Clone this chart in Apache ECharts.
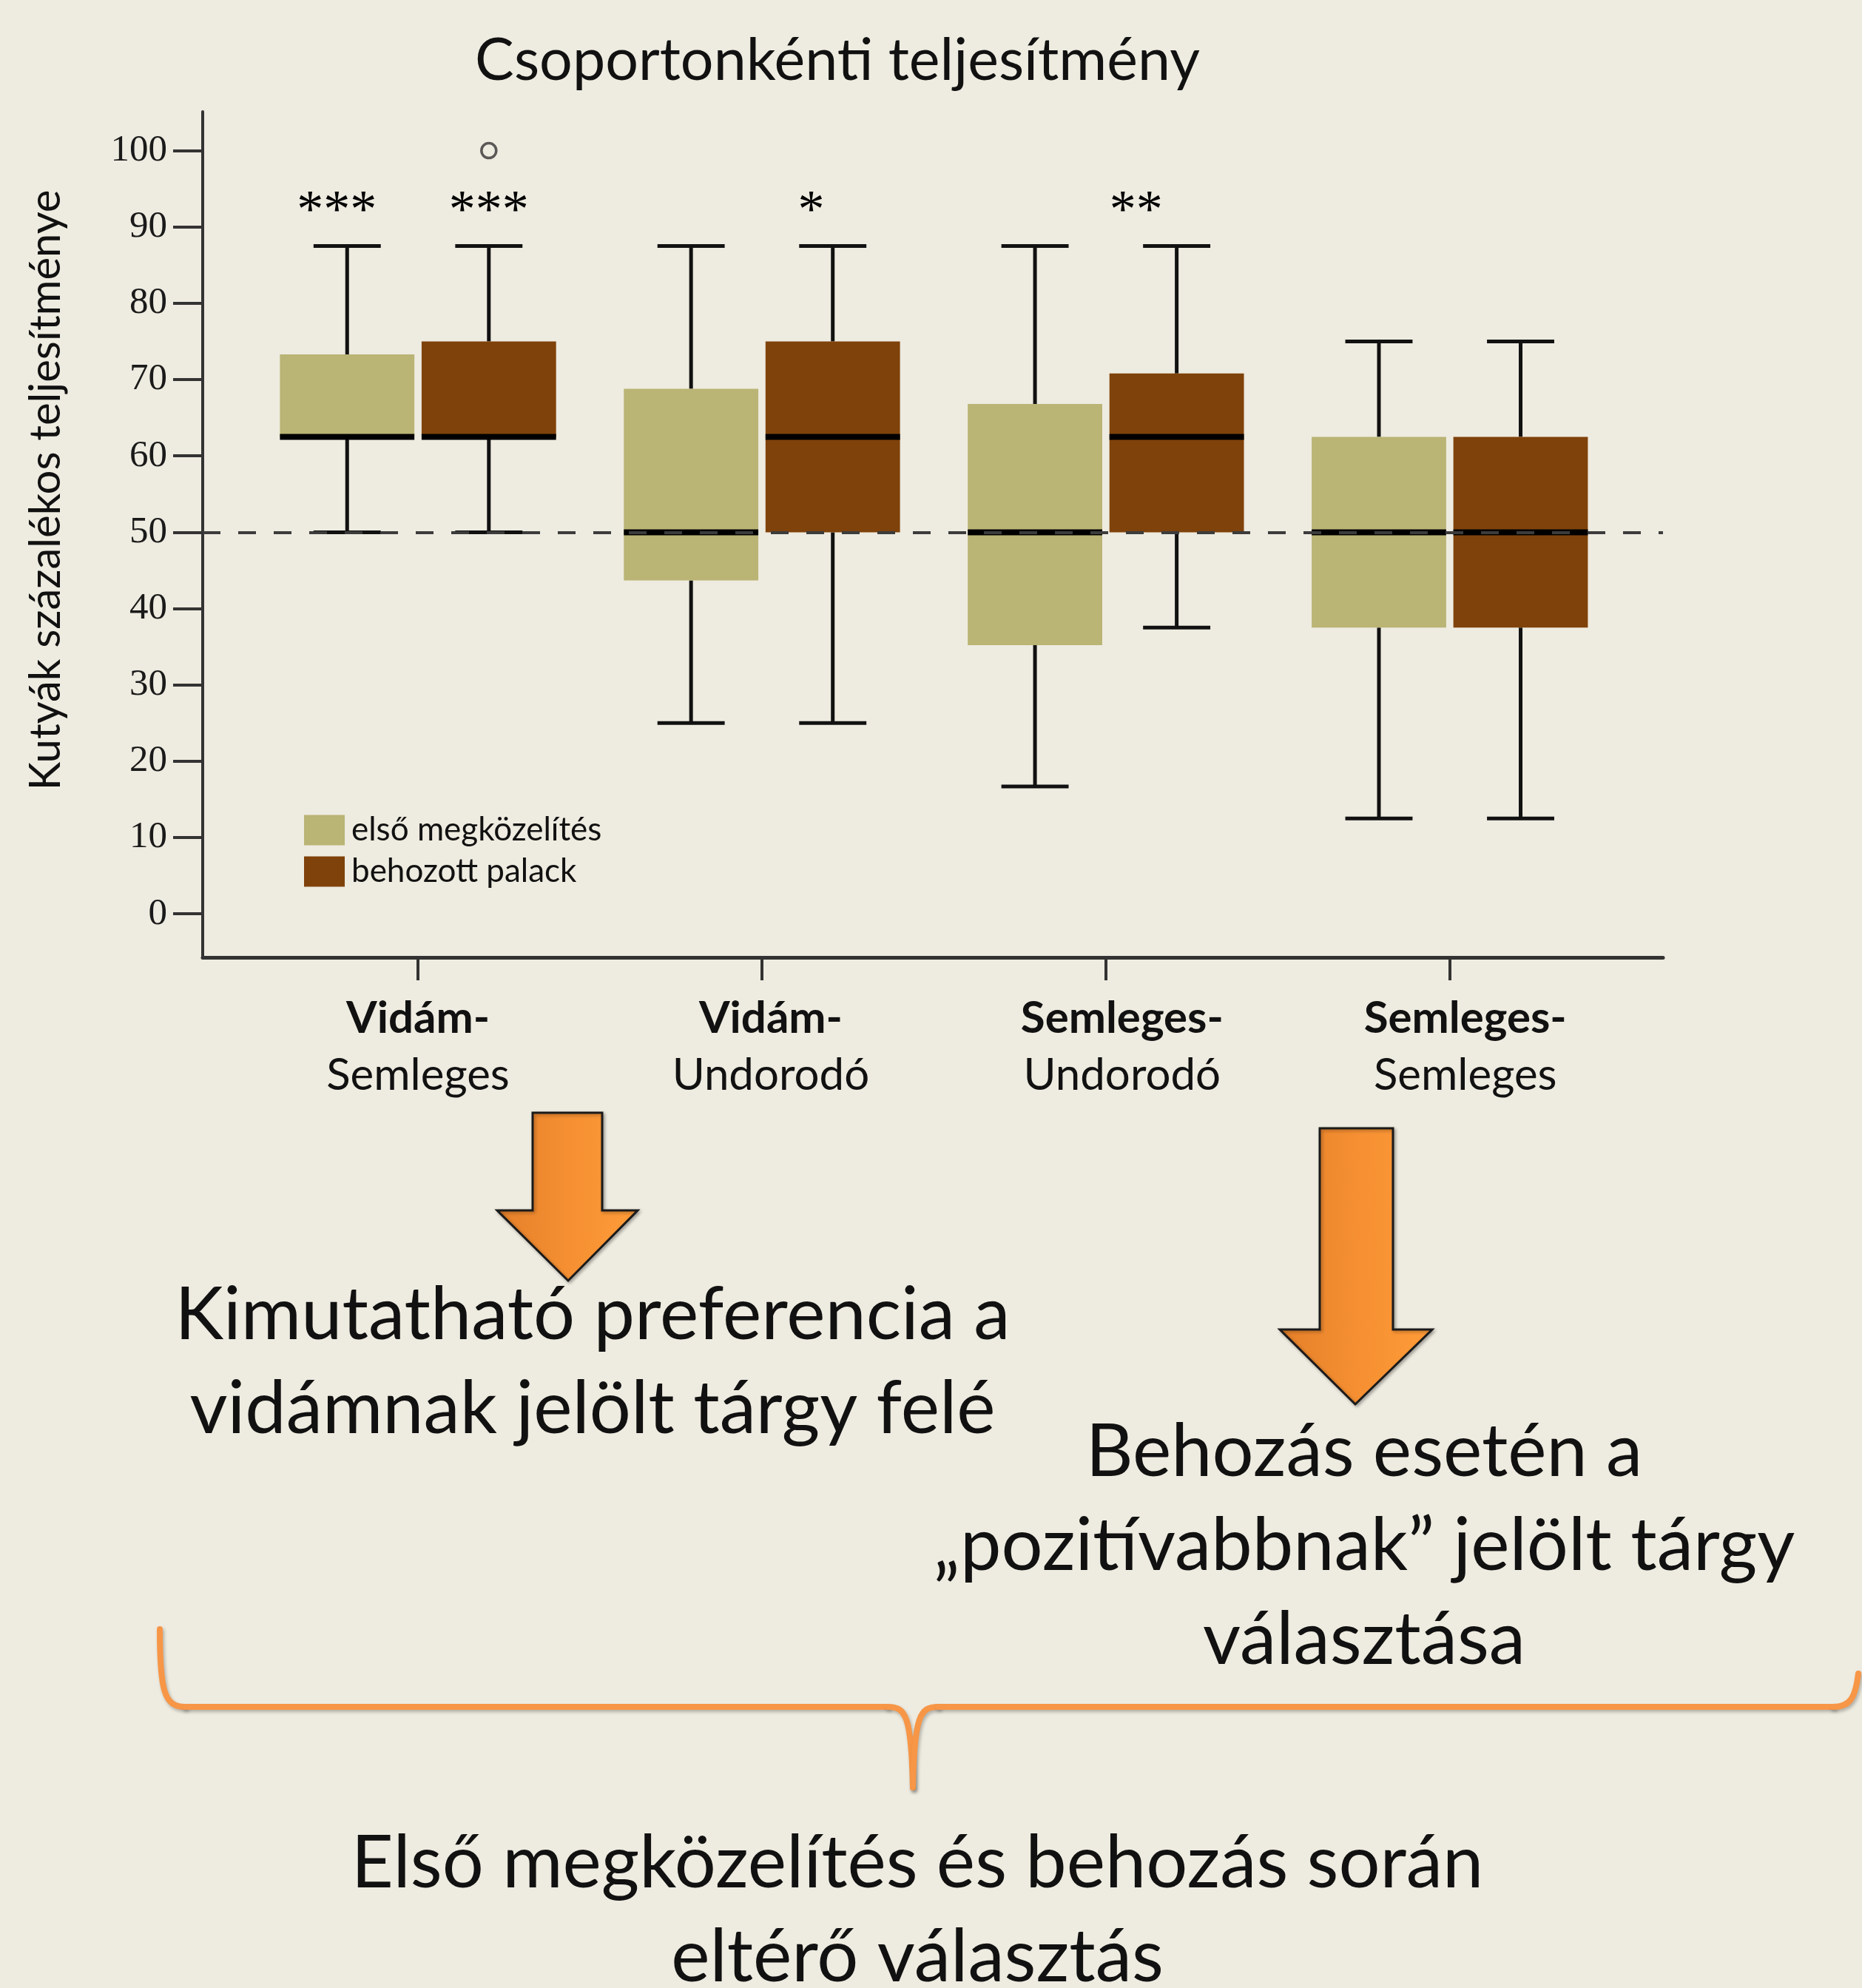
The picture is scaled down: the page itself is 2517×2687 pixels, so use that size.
<!DOCTYPE html>
<html>
<head>
<meta charset="utf-8">
<script src="https://cdn.jsdelivr.net/npm/echarts@6/dist/echarts.min.js"></script>
<style>
html,body{margin:0;padding:0;background:#EEEBE0;}
#chart{width:2517px;height:2687px;}
</style>
</head>
<body>
<div id="chart"></div>
<script>
// ---- data ----
const categoriesTop = ['Vidám-', 'Vidám-', 'Semleges-', 'Semleges-'];
const categoriesBottom = ['Semleges', 'Undorodó', 'Undorodó', 'Semleges'];
const seriesNames = ['első megközelítés', 'behozott palack'];
// [min, Q1, median, Q3, max]
const firstApproach = [
  [50, 62.5, 62.5, 73.3, 87.5],
  [25, 43.7, 50, 68.8, 87.5],
  [16.7, 35.2, 50, 66.8, 87.5],
  [12.5, 37.5, 50, 62.5, 75]
];
const broughtBottle = [
  [50, 62.5, 62.5, 75, 87.5],
  [25, 50, 62.5, 75, 87.5],
  [37.5, 50, 62.5, 70.8, 87.5],
  [12.5, 37.5, 50, 62.5, 75]
];
const outliersBrought = [[0, 100]];
const starsFirst = ['***', '', '', ''];
const starsBrought = ['***', '*', '**', ''];
const yTicks = [0, 10, 20, 30, 40, 50, 60, 70, 80, 90, 100];
const chanceLevel = 50;
const title = 'Csoportonkénti teljesítmény';
const yName = 'Kutyák százalékos teljesítménye';
const noteLeft = 'Kimutatható preferencia a\nvidámnak jelölt tárgy felé';
const noteRight = 'Behozás esetén a\n„pozitívabbnak” jelölt tárgy\nválasztása';
const noteBottom = 'Első megközelítés és behozás során\neltérő választás';

// ---- styling / layout constants ----
const colors = ['#BAB475', '#7F420A'];
const offsets = [-0.206, 0.206];
const boxW = 0.391;
const starLevel = 91.9;
const starShift = [[-0.03, 0, 0, 0], [0, -0.063, -0.118, 0]];
const labelShift = [0, 12, 22, 21];
const catIdx = categoriesTop.map((_, i) => i);

function makeRender(seriesIdx, stars) {
  return function (params, api) {
    const c = api.value(0) + offsets[seriesIdx];
    const vmin = api.value(1), q1 = api.value(2), med = api.value(3), q3 = api.value(4), vmax = api.value(5);
    const left = api.coord([c - boxW / 2, q3]);
    const right = api.coord([c + boxW / 2, q1]);
    const mid = api.coord([c, vmax]);
    const capL = api.coord([c - boxW / 4, vmax])[0];
    const capR = api.coord([c + boxW / 4, vmax])[0];
    const yMax = mid[1];
    const yMin = api.coord([c, vmin])[1];
    const yQ1 = right[1], yQ3 = left[1];
    const yMed = api.coord([c, med])[1];
    const ln = { stroke: '#111', lineWidth: 5 };
    const children = [
      { type: 'line', shape: { x1: mid[0], y1: yMax, x2: mid[0], y2: yQ3 }, style: ln },
      { type: 'line', shape: { x1: mid[0], y1: yQ1, x2: mid[0], y2: yMin }, style: ln },
      { type: 'line', shape: { x1: capL, y1: yMax, x2: capR, y2: yMax }, style: ln },
      { type: 'line', shape: { x1: capL, y1: yMin, x2: capR, y2: yMin }, style: ln },
      { type: 'rect', shape: { x: left[0], y: yQ3, width: right[0] - left[0], height: yQ1 - yQ3 },
        style: { fill: colors[seriesIdx] } },
      { type: 'line', shape: { x1: left[0], y1: yMed, x2: right[0], y2: yMed },
        style: { stroke: '#000', lineWidth: 8 } }
    ];
    const s = stars[params.dataIndex];
    if (s) {
      const p = api.coord([c + starShift[seriesIdx][params.dataIndex], starLevel]);
      children.push({ type: 'text', x: p[0], y: p[1],
        style: { text: s, fill: '#000', font: '72px "Liberation Serif"', textAlign: 'center', textVerticalAlign: 'middle' } });
    }
    return { type: 'group', children: children };
  };
}

const rich = {};
labelShift.forEach(function (s, i) {
  rich['b' + i] = { fontFamily: 'Lato', fontWeight: 'bold', fontSize: 60, lineHeight: 77, color: '#111', padding: [0, 0, 0, 2 * s] };
  rich['r' + i] = { fontFamily: 'Lato', fontSize: 60, lineHeight: 77, color: '#111', padding: [0, 0, 0, 2 * s] };
});

const chart = echarts.init(document.getElementById('chart'), null, { renderer: 'canvas' });

const arrowFill = {
  type: 'linear', x: 0, y: 0, x2: 1, y2: 0,
  colorStops: [{ offset: 0, color: '#E5802A' }, { offset: 0.5, color: '#F58F32' }, { offset: 1, color: '#FF9C38' }]
};
const braceStyle = { stroke: '#F79646', lineWidth: 8, lineCap: 'round', fill: null,
  shadowBlur: 4, shadowColor: 'rgba(0,0,0,0.25)', shadowOffsetX: 2, shadowOffsetY: 3 };

chart.setOption({
  backgroundColor: '#EEEBE0',
  animation: false,
  textStyle: { fontFamily: 'Lato' },
  title: {
    text: title, left: 1127, top: 38, textAlign: 'center',
    textStyle: { fontFamily: 'Lato', fontWeight: 'normal', fontSize: 79, color: '#111' }
  },
  legend: {
    data: seriesNames, orient: 'vertical', left: 411, top: 1100, padding: 0,
    itemWidth: 55, itemHeight: 41, itemGap: 12, icon: 'rect',
    textStyle: { fontFamily: 'Lato', fontSize: 44, color: '#111', padding: [0, 0, 0, 4] }
  },
  grid: { left: 274, right: 269, top: 151, bottom: 1393, containLabel: false },
  xAxis: {
    type: 'value', min: -0.626, max: 3.62,
    splitLine: { show: false },
    axisLine: { show: true, onZero: false, lineStyle: { color: '#333', width: 5 } },
    axisTick: { show: true, customValues: catIdx, length: 31, lineStyle: { color: '#333', width: 4 } },
    axisLabel: {
      customValues: catIdx, margin: 44,
      formatter: function (v) { const i = Math.round(v); return '{b' + i + '|' + categoriesTop[i] + '}\n{r' + i + '|' + categoriesBottom[i] + '}'; },
      rich: rich
    }
  },
  yAxis: {
    type: 'value', min: -5.7, max: 105.1,
    splitLine: { show: false },
    axisLine: { show: true, onZero: false, lineStyle: { color: '#333', width: 4 } },
    axisTick: { show: true, customValues: yTicks, length: 40, lineStyle: { color: '#333', width: 4 } },
    axisLabel: { customValues: yTicks, margin: 48, fontFamily: 'Liberation Serif', fontSize: 51, color: '#1a1a1a' },
    name: yName, nameLocation: 'middle', nameGap: 183, nameRotate: 90,
    nameTextStyle: { fontFamily: 'Lato', fontSize: 58, color: '#111', padding: [0, 0, 0, 120] }
  },
  series: [
    {
      name: seriesNames[0], type: 'custom', itemStyle: { color: colors[0] },
      renderItem: makeRender(0, starsFirst),
      data: firstApproach.map((d, i) => [i].concat(d)),
      encode: { x: 0, y: [1, 2, 3, 4, 5] }, z: 2
    },
    {
      name: seriesNames[1], type: 'custom', itemStyle: { color: colors[1] },
      renderItem: makeRender(1, starsBrought),
      data: broughtBottle.map((d, i) => [i].concat(d)),
      encode: { x: 0, y: [1, 2, 3, 4, 5] }, z: 2
    },
    {
      name: 'outlier', type: 'scatter', z: 5,
      data: outliersBrought.map(d => [d[0] + offsets[1], d[1]]),
      symbol: 'circle', symbolSize: 20,
      itemStyle: { color: 'rgba(0,0,0,0)', borderColor: '#333', borderWidth: 3.5 },
      markLine: {
        silent: true, symbol: ['none', 'none'], label: { show: false },
        lineStyle: { type: [24, 24], color: '#3c3c3c', width: 4 },
        data: [{ yAxis: chanceLevel }]
      }
    }
  ],
  graphic: [
    { type: 'polygon', z: 10,
      shape: { points: [[720, 1504], [814, 1504], [814, 1636], [862, 1636], [768, 1731], [672, 1636], [720, 1636]] },
      style: { fill: arrowFill, stroke: '#1a1a1a', lineWidth: 3, shadowBlur: 4, shadowColor: 'rgba(0,0,0,0.3)', shadowOffsetX: 2, shadowOffsetY: 2 } },
    { type: 'polygon', z: 10,
      shape: { points: [[1784, 1525], [1883, 1525], [1883, 1797], [1936, 1797], [1832, 1898], [1730, 1797], [1784, 1797]] },
      style: { fill: arrowFill, stroke: '#1a1a1a', lineWidth: 3, shadowBlur: 4, shadowColor: 'rgba(0,0,0,0.3)', shadowOffsetX: 2, shadowOffsetY: 2 } },
    { type: 'bezierCurve', z: 10, shape: { x1: 216, y1: 2202, cpx1: 216, cpy1: 2285, cpx2: 222, cpy2: 2307, x2: 250, y2: 2307 }, style: braceStyle },
    { type: 'line', z: 10, shape: { x1: 250, y1: 2307, x2: 1200, y2: 2307 }, style: braceStyle },
    { type: 'bezierCurve', z: 10, shape: { x1: 1200, y1: 2307, cpx1: 1224, cpy1: 2307, cpx2: 1232, cpy2: 2318, x2: 1234, y2: 2416 }, style: braceStyle },
    { type: 'bezierCurve', z: 10, shape: { x1: 1234, y1: 2416, cpx1: 1236, cpy1: 2318, cpx2: 1244, cpy2: 2307, x2: 1268, y2: 2307 }, style: braceStyle },
    { type: 'line', z: 10, shape: { x1: 1268, y1: 2307, x2: 2478, y2: 2307 }, style: braceStyle },
    { type: 'bezierCurve', z: 10, shape: { x1: 2478, y1: 2307, cpx1: 2500, cpy1: 2307, cpx2: 2508, cpy2: 2296, x2: 2512, y2: 2262 }, style: braceStyle },
    { type: 'text', z: 11, x: 801, y: 1842,
      style: { text: noteLeft, font: '99px Lato', fill: '#111', textAlign: 'center', textVerticalAlign: 'middle', lineHeight: 127 } },
    { type: 'text', z: 11, x: 1844, y: 2090,
      style: { text: noteRight, font: '99px Lato', fill: '#111', textAlign: 'center', textVerticalAlign: 'middle', lineHeight: 127 } },
    { type: 'text', z: 11, x: 1240, y: 2583,
      style: { text: noteBottom, font: '99px Lato', fill: '#111', textAlign: 'center', textVerticalAlign: 'middle', lineHeight: 127 } }
  ]
});
</script>
</body>
</html>
